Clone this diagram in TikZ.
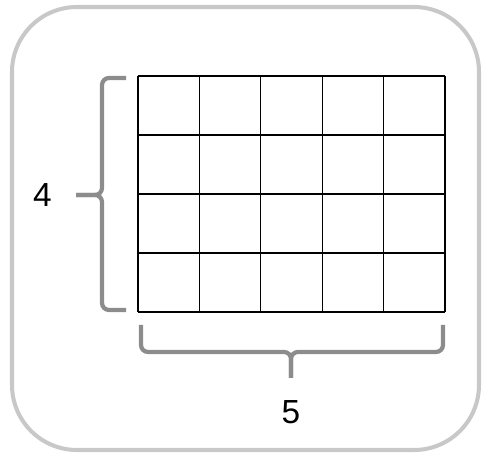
\documentclass[tikz,border=0pt]{standalone}
\usepackage{fontspec}
\setmainfont{Liberation Sans}
\usetikzlibrary{positioning}

\definecolor{framegray}{RGB}{200,200,200}
\definecolor{bracegray}{RGB}{140,140,140}

\begin{document}
\begin{tikzpicture}[
	x=0.02cm, y=-0.02cm,
	frame/.style={
		draw=framegray,
		line width=2.3pt,
		rounded corners=1.3cm
	},
	gridline/.style={black, line width=0.6pt},
	bracket/.style={
		draw=bracegray,
		line width=2.4pt,
		rounded corners=0.14cm
	},
	numlabel/.style={
		font=\fontsize{19}{22}\selectfont,
		inner sep=0pt
	}
	]
	
	\useasboundingbox (0,0) rectangle (484,455);
	
	% ======================
	% Outer frame
	% ======================
	\draw[frame] (12,7) rectangle (479,450);
	
	% ======================
	% Grid 5 x 4
	% ======================
	\coordinate (gridnw) at (138,76);
	\coordinate (gridse) at (445,312);
	\foreach \i in {0,...,5}
		\draw[gridline] (138+61.4*\i,76) -- (138+61.4*\i,312);
	\foreach \j in {0,...,4}
		\draw[gridline] (138,76+59*\j) -- (445,76+59*\j);
	
	% ======================
	% Left brace
	% ======================
	\coordinate (ltop) at (126,78);
	\coordinate (lbot) at (126,310);
	\coordinate (lmid) at (102,195);
	\coordinate (ltip) at (76,195);
	\draw[bracket] (ltop) -- (102,78) -- (lmid) -- (ltip);
	\draw[bracket] (lbot) -- (102,310) -- (lmid) -- (ltip);
	
	\node (four) [numlabel, left=0.48cm of ltip] {4};
	
	% ======================
	% Bottom brace
	% ======================
	\coordinate (bleft) at (141,325);
	\coordinate (bright) at (443,325);
	\coordinate (bmid) at (291,352);
	\coordinate (btip) at (291,378);
	\draw[bracket] (bleft) -- (141,352) -- (bmid) -- (btip);
	\draw[bracket] (bright) -- (443,352) -- (bmid) -- (btip);
	
	\node (five) [numlabel, below=0.44cm of btip] {5};
	
\end{tikzpicture}
\end{document}
